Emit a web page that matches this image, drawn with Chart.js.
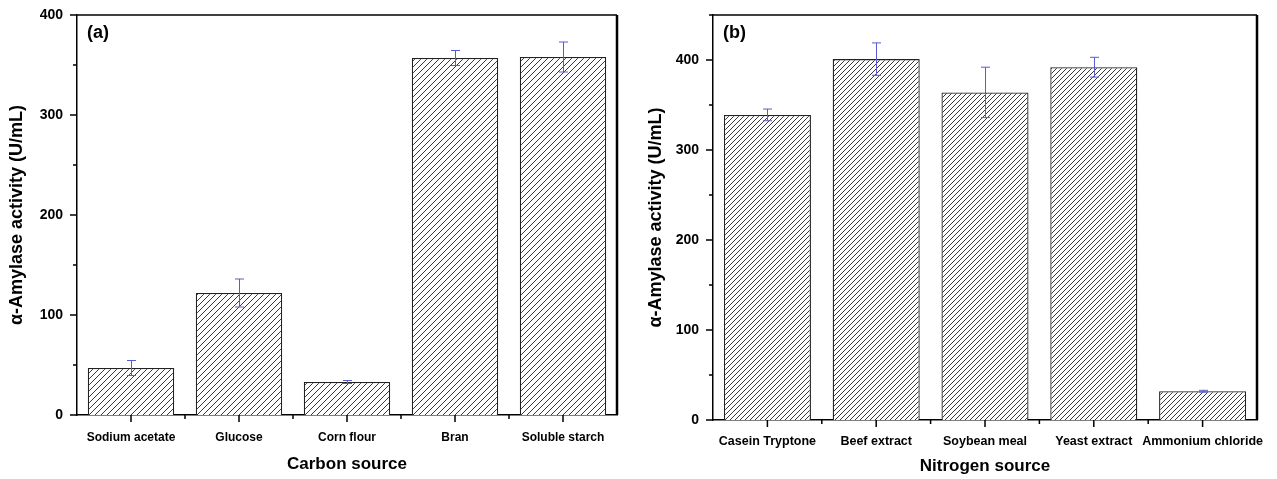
<!DOCTYPE html>
<html>
<head>
<meta charset="utf-8">
<script src="https://cdn.jsdelivr.net/npm/chart.js@4.4.0/dist/chart.umd.min.js"></script>
<style>
body { margin: 0; background: #fff; }
#wrap { display: flex; width: 1277px; height: 479px; }
canvas { display: block; }
</style>
</head>
<body>
<div id="wrap">
<canvas id="carbonChart" width="640" height="479"></canvas>
<canvas id="nitrogenChart" width="637" height="479"></canvas>
</div>
<script>
// данные (a)
const carbonLabels = ['Sodium acetate', 'Glucose', 'Corn flour', 'Bran', 'Soluble starch'];
const carbonValues = [47, 122, 33, 357, 358];
const carbonErrors = [7.5, 14, 1.5, 7.5, 15];
const carbonTicks = [0, 100, 200, 300, 400];

// данные (b)
const nitrogenLabels = ['Casein Tryptone', 'Beef extract', 'Soybean meal', 'Yeast extract', 'Ammonium chloride'];
const nitrogenValues = [339, 401, 364, 392, 32];
const nitrogenErrors = [6.5, 18, 28, 11, 1];
const nitrogenTicks = [0, 100, 200, 300, 400];

Chart.defaults.font.family = '"Liberation Sans", Arial, sans-serif';
Chart.defaults.color = '#000';

function hatch(step) {
    const c = document.createElement('canvas');
    c.width = step; c.height = step;
    const g = c.getContext('2d');
    g.fillStyle = '#fff';
    g.fillRect(0, 0, step, step);
    g.strokeStyle = '#222';
    g.lineWidth = 0.9;
    g.beginPath();
    g.moveTo(-1, step + 1); g.lineTo(step + 1, -1);
    g.moveTo(-1, 1); g.lineTo(1, -1);
    g.moveTo(step - 1, step + 1); g.lineTo(step + 1, step - 1);
    g.stroke();
    return g.createPattern(c, 'repeat');
}

// рамка, засечки, погрешности, подпись панели
const extras = {
    id: 'extras',
    afterDraw(chart, args, opts) {
        const { ctx, chartArea: a, scales: { x, y } } = chart;
        ctx.save();
        // погрешности
        ctx.strokeStyle = '#5a5ad2';
        ctx.lineWidth = 1;
        const vals = chart.data.datasets[0].data;
        chart.getDatasetMeta(0).data.forEach((bar, i) => {
            const top = y.getPixelForValue(vals[i] + opts.errors[i]);
            const bot = y.getPixelForValue(vals[i] - opts.errors[i]);
            const cx = Math.round(bar.x) + 0.5;
            ctx.beginPath();
            ctx.moveTo(cx, top); ctx.lineTo(cx, bot);
            ctx.moveTo(cx - 4.5, top); ctx.lineTo(cx + 4.5, top);
            ctx.moveTo(cx - 4.5, bot); ctx.lineTo(cx + 4.5, bot);
            ctx.stroke();
        });
        // рамка
        ctx.strokeStyle = '#000';
        ctx.lineWidth = 1.5;
        ctx.beginPath();
        ctx.moveTo(a.left, a.top); ctx.lineTo(a.right, a.top);
        ctx.stroke();
        ctx.lineWidth = 2.5;
        ctx.beginPath();
        ctx.moveTo(a.right, a.top); ctx.lineTo(a.right, a.bottom);
        ctx.stroke();
        // засечки по y
        ctx.lineWidth = 1.5;
        ctx.beginPath();
        for (let v = 0; v <= y.max; v += 50) {
            const py = y.getPixelForValue(v);
            const len = v % 100 === 0 ? 7 : 4;
            ctx.moveTo(a.left - len, py); ctx.lineTo(a.left, py);
        }
        // засечки по x
        const n = chart.data.labels.length;
        for (let i = 0; i < n; i++) {
            const px = x.getPixelForValue(i);
            ctx.moveTo(px, a.bottom); ctx.lineTo(px, a.bottom + 7);
            const bx = x.getPixelForValue(i + 0.5);
            if (i < n - 1) { ctx.moveTo(bx, a.bottom); ctx.lineTo(bx, a.bottom + 4); }
        }
        ctx.stroke();
        // (a) / (b)
        ctx.fillStyle = '#000';
        ctx.font = 'bold 18px "Liberation Sans", Arial';
        ctx.textBaseline = 'middle';
        ctx.fillText(opts.tag, a.left + 10, a.top + 18);
        ctx.restore();
    }
};

function makeChart(id, labels, values, errors, ticks, o) {
    return new Chart(document.getElementById(id).getContext('2d'), {
        type: 'bar',
        data: {
            labels: labels,
            datasets: [{
                data: values,
                backgroundColor: hatch(o.step),
                borderColor: '#222',
                borderWidth: 1.3,
                barPercentage: 0.8,
                categoryPercentage: 1
            }]
        },
        options: {
            responsive: false,
            animation: false,
            layout: { padding: { top: 15, right: o.padRight, left: 0, bottom: 0 } },
            plugins: {
                legend: { display: false },
                tooltip: { enabled: false },
                extras: { errors: errors, tag: o.tag }
            },
            scales: {
                x: {
                    grid: { display: false, drawTicks: false },
                    border: { display: true, color: '#000', width: 1.5 },
                    ticks: { font: { size: o.xFont, weight: 'bold' }, padding: o.xPad, maxRotation: 0, autoSkip: false },
                    title: { display: true, text: o.xTitle, font: { size: 17, weight: 'bold' }, padding: { top: 0, bottom: o.xTitlePad } },
                    afterFit: s => { s.height = o.xHeight; s.paddingLeft = 0; s.paddingRight = 0; }
                },
                y: {
                    min: 0,
                    max: o.yMax,
                    grid: { display: false, drawTicks: false },
                    border: { display: true, color: '#000', width: 1.5 },
                    afterBuildTicks: s => { s.ticks = ticks.map(v => ({ value: v })); },
                    ticks: { font: { size: 14, weight: 'bold' }, padding: 14 },
                    title: { display: true, text: 'α-Amylase activity (U/mL)', font: { size: 18, weight: 'bold' }, padding: { top: o.yTitlePad, bottom: 0 } },
                    afterFit: s => { s.width = o.yWidth; s.paddingTop = 0; s.paddingBottom = 0; }
                }
            }
        },
        plugins: [extras]
    });
}

makeChart('carbonChart', carbonLabels, carbonValues, carbonErrors, carbonTicks, {
    tag: '(a)', step: 6, padRight: 23, yMax: 400, yWidth: 77, xHeight: 64, xFont: 12,
    xPad: 15, xTitle: 'Carbon source', xTitlePad: 4, yTitlePad: 6
});

makeChart('nitrogenChart', nitrogenLabels, nitrogenValues, nitrogenErrors, nitrogenTicks, {
    tag: '(b)', step: 5, padRight: 20, yMax: 450, yWidth: 73, xHeight: 59, xFont: 12.5,
    xPad: 14, xTitle: 'Nitrogen source', xTitlePad: 2, yTitlePad: 5
});
</script>
</body>
</html>
